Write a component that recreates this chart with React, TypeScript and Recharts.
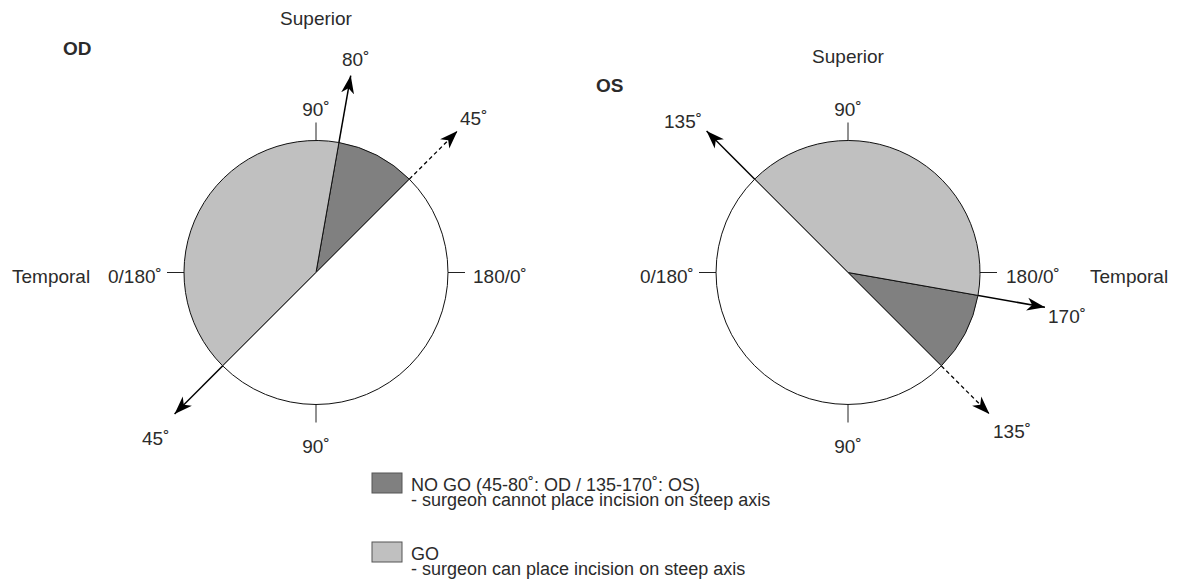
import { PieChart, Pie, Cell } from "recharts";

// sector order: NO GO, GO, rest (values are degrees of arc)
const sliceNames = ["NO GO", "GO", "Other"];
const odValues = [35, 145, 180];
const osValues = [35, 145, 180];
const sliceColors = ["#808080", "#c0c0c0", "#ffffff"];
const odStartAngle = 45;
const osStartAngle = -45;

// arrow directions (math degrees, counter-clockwise from 3 o'clock)
const odSolidArrows = [80, 225];
const odDashedArrows = [45];
const osSolidArrows = [135, -10];
const osDashedArrows = [-45];

const axisLabels = ["0/180˚", "90˚", "180/0˚", "90˚"];
const legendTitles = ["NO GO (45-80˚: OD / 135-170˚: OS)", "GO"];
const legendNotes = [
  "- surgeon cannot place incision on steep axis",
  "- surgeon can place incision on steep axis",
];

const W = 1184;
const H = 584;
const R = 132;
const ARROW_LEN = 200;
const CY = 272.5;
const OD_CX = 316;
const OS_CX = 848;
const INK = "#2b2b2b";
const FONT = "'Liberation Sans', Arial, sans-serif";

const toData = (vals: number[]) =>
  vals.map((v, i) => ({ name: sliceNames[i], value: v }));

function tip(cx: number, cy: number, angle: number, len: number) {
  const a = (angle * Math.PI) / 180;
  return { x: cx + len * Math.cos(a), y: cy - len * Math.sin(a) };
}

function Arrows({ cx, solid, dashed }: { cx: number; solid: number[]; dashed: number[] }) {
  return (
    <g>
      <line x1={cx - 149} y1={CY} x2={cx + 149} y2={CY} stroke="#222" strokeWidth={1} />
      <line x1={cx} y1={CY - 150} x2={cx} y2={CY + 150} stroke="#222" strokeWidth={1} />
      {solid.map((a) => {
        const t = tip(cx, CY, a, ARROW_LEN);
        return (
          <line key={"s" + a} x1={cx} y1={CY} x2={t.x} y2={t.y} stroke="#000"
            strokeWidth={1.5} markerEnd="url(#head)" />
        );
      })}
      {dashed.map((a) => {
        const s = tip(cx, CY, a, R);
        const t = tip(cx, CY, a, ARROW_LEN);
        return (
          <g key={"d" + a}>
            <line x1={cx} y1={CY} x2={s.x} y2={s.y} stroke="#000" strokeWidth={1.2} />
            <line x1={s.x} y1={s.y} x2={t.x} y2={t.y} stroke="#000" strokeWidth={1.3}
              strokeDasharray="4 3" markerEnd="url(#head)" />
          </g>
        );
      })}
    </g>
  );
}

function T(props: any) {
  const { children, ...rest } = props;
  return (
    <text fontFamily={FONT} fontSize={19} fill={INK} {...rest}>
      {children}
    </text>
  );
}

export default function App() {
  return (
    <div style={{ position: "absolute", left: 0, top: 0, width: W, height: H, background: "#fff" }}>
      <PieChart width={W} height={H} margin={{ top: 0, right: 0, bottom: 0, left: 0 }}>
        <defs>
          <marker id="head" viewBox="-18 -7 18 14" refX={0} refY={0} markerWidth={18}
            markerHeight={14} markerUnits="userSpaceOnUse" orient="auto">
            <path d="M0,0 L-18,-6.5 L-13,0 L-18,6.5 Z" fill="#000" />
          </marker>
        </defs>
        <Pie data={toData(odValues)} dataKey="value" nameKey="name" cx={OD_CX} cy={CY}
          outerRadius={R} startAngle={odStartAngle} endAngle={odStartAngle + 360}
          stroke="#111" strokeWidth={1} label={false} labelLine={false}
          isAnimationActive={false}>
          {odValues.map((_, i) => (
            <Cell key={i} fill={sliceColors[i]} />
          ))}
        </Pie>
        <Pie data={toData(osValues)} dataKey="value" nameKey="name" cx={OS_CX} cy={CY}
          outerRadius={R} startAngle={osStartAngle} endAngle={osStartAngle + 360}
          stroke="#111" strokeWidth={1} label={false} labelLine={false}
          isAnimationActive={false}>
          {osValues.map((_, i) => (
            <Cell key={i} fill={sliceColors[i]} />
          ))}
        </Pie>

        <Arrows cx={OD_CX} solid={odSolidArrows} dashed={odDashedArrows} />
        <Arrows cx={OS_CX} solid={osSolidArrows} dashed={osDashedArrows} />

        {/* OD labels */}
        <T x={OD_CX} y={25} textAnchor="middle">Superior</T>
        <T x={63} y={55} fontWeight="bold">OD</T>
        <T x={342} y={65.5}>80˚</T>
        <T x={460} y={125}>45˚</T>
        <T x={142} y={445}>45˚</T>
        <T x={12} y={282.5}>Temporal</T>
        <T x={108} y={282.5}>{axisLabels[0]}</T>
        <T x={OD_CX} y={116} textAnchor="middle">{axisLabels[1]}</T>
        <T x={473} y={282.5}>{axisLabels[2]}</T>
        <T x={OD_CX} y={453} textAnchor="middle">{axisLabels[3]}</T>

        {/* OS labels */}
        <T x={OS_CX} y={62.5} textAnchor="middle">Superior</T>
        <T x={596} y={91.5} fontWeight="bold">OS</T>
        <T x={664} y={128}>135˚</T>
        <T x={1048} y={322.5}>170˚</T>
        <T x={993} y={437.5}>135˚</T>
        <T x={640} y={282.5}>{axisLabels[0]}</T>
        <T x={OS_CX} y={116} textAnchor="middle">{axisLabels[1]}</T>
        <T x={1006} y={282.5}>{axisLabels[2]}</T>
        <T x={1090} y={282.5}>Temporal</T>
        <T x={OS_CX} y={453} textAnchor="middle">{axisLabels[3]}</T>

        {/* legend */}
        {legendTitles.map((title, i) => {
          const top = i === 0 ? 473 : 542;
          return (
            <g key={title}>
              <rect x={372} y={top} width={30} height={20} fill={sliceColors[i]}
                stroke="#555" strokeWidth={1} />
              <T x={411} y={top + 18} fontSize={18}>{title}</T>
              <T x={411} y={top + 32.5} fontSize={18}>{legendNotes[i]}</T>
            </g>
          );
        })}
      </PieChart>
    </div>
  );
}
